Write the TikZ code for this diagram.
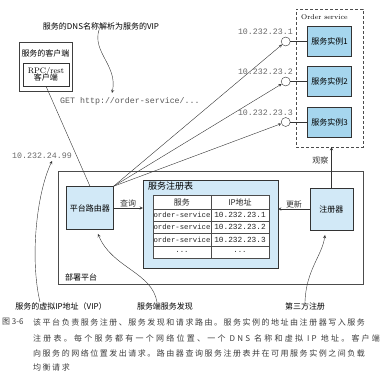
\documentclass[tikz,border=0pt]{standalone}
\usepackage{fontspec}
\setmonofont{Liberation Mono}
\newfontfamily\cjk{Noto Sans CJK SC}
\newfontfamily\capfont[LetterSpace=19]{Noto Sans CJK SC}
\newfontfamily\capfontwide[LetterSpace=28]{Noto Sans CJK SC}
\definecolor{instblue}{RGB}{166,214,238}
\definecolor{paleblue}{RGB}{210,233,247}
\definecolor{txtgray}{RGB}{105,105,105}
\definecolor{capgray}{RGB}{60,60,60}
\tikzset{
  box/.style={draw,black!80,text=black,font=\cjk\fontsize{8}{9.5}\selectfont},
  inst/.style={box,fill=instblue,minimum width=44,minimum height=30},
  cell/.style={draw,black!70,fill=white,minimum width=58,minimum height=12.25,inner sep=0pt,font=\ttfamily\fontsize{7.3}{8}\selectfont,text=black!85},
  ipnum/.style={font=\ttfamily\fontsize{8.3}{9}\selectfont,text=txtgray,inner sep=0pt},
  note/.style={font=\cjk\fontsize{8}{9.5}\selectfont,inner sep=0pt},
  capline/.style={anchor=west,inner sep=0pt,text=capgray,font=\capfont\fontsize{8}{9}\selectfont}
}
\begin{document}
\begin{tikzpicture}[x=1pt,y=-1pt,>=stealth,font=\cjk\fontsize{8}{9.5}\selectfont]
  \useasboundingbox (0,0) rectangle (384,374);
  % client
  \draw[black!75] (19,42) rectangle (72,91);
  \node[note] (clientlbl) at (45.5,53) {服务的客户端};
  \node[box,align=center,minimum width=46,minimum height=23,inner sep=1pt] (rpc) at (46,74.5) {{\rmfamily RPC/rest}\\[-2pt]客户端};
  \node[note] (dnsnote) at (101,26) {服务的DNS名称解析为服务的VIP};
  \coordinate (dnstip) at (112,93);
  \draw[->,black!80] ([xshift=-2]dnsnote.south) .. controls (92,52) and (118,66) .. (dnstip);
  \node[ipnum,anchor=west,text=black!65] (get) at (60,101) {GET http://order-service/...};
  % platform
  \draw[black!70] (58,171) rectangle (363,284);
  \node[note,anchor=west] (platlbl) at (65,277) {部署平台};
  \node[box,fill=paleblue,minimum width=44,minimum height=43] (router) at (90,208) {平台路由器};
  \node[box,fill=paleblue,minimum width=135,minimum height=88] (registry) at (210.5,224) {};
  \node[note,anchor=west,font=\cjk\fontsize{9}{10}\selectfont] (regtitle) at (148,186) {服务注册表};
  \node[cell,minimum height=14,font=\cjk\fontsize{8}{9}\selectfont] (hsvc) at (182,202) {服务};
  \node[cell,minimum height=14,font=\cjk\fontsize{8}{9}\selectfont] (hip) at (240,202) {IP地址};
  \foreach \i/\y in {1/215.1,2/227.4,3/239.6}{
    \node[cell] (svc\i) at (182,\y) {order-service};
    \node[cell,font=\ttfamily\fontsize{7.8}{8}\selectfont] (ip\i) at (240,\y) {10.232.23.\i};
  }
  \node[cell] (svc4) at (182,251.9) {...};
  \node[cell] (ip4) at (240,251.9) {...};
  \node[box,fill=paleblue,minimum width=43,minimum height=42] (registrar) at (331.5,209) {注册器};
  \draw[->,black!80] (router.east) -- (router.east -| registry.west) node[midway,above=1pt,note] (querylbl) {查询};
  \draw[->,black!80] (registrar.west) -- (registrar.west -| registry.east) node[midway,above=1pt,note] (updlbl) {更新};
  % order service
  \node[draw,black!70,dash pattern=on 3pt off 2pt,minimum width=67,minimum height=138] (ordersvc) at (329.5,78) {};
  \node[anchor=west,inner sep=0pt,font=\rmfamily\fontsize{7}{8}\selectfont] (oslbl) at (301,17) {Order service};
  \foreach \i/\y in {1/41.5,2/81.5,3/122}{
    \node[inst] (inst\i) at (329.5,\y) {服务实例\i};
    \node[circle,draw,black!80,fill=white,minimum size=9,inner sep=0pt] (vip\i) at (285.7,\y) {};
    \draw[black!80] (vip\i) -- (inst\i);
    \node[ipnum,anchor=east] (iplbl\i) at (293,\y-9.5) {10.232.23.\i};
    \draw[->,black!80] (router.north east) -- (vip\i);
  }
  \draw[black!80] (rpc.south) -- (router.north);
  \draw[->,black!80] (registrar.north) -- (registrar.north |- ordersvc.south) node[pos=0.68,left=3pt,note] (watchlbl) {观察};
  % notes below
  \node[ipnum] (vipaddr) at (42,156) {10.232.24.99};
  \node[note] (vipnote) at (61,306) {服务的虚拟IP地址（VIP）};
  \node[note] (discnote) at (165,306) {服务端服务发现};
  \node[note] (thirdnote) at (305,306) {第三方注册};
  \coordinate (disctip) at (98,234);
  \coordinate (thirdtip) at (325,235);
  \draw[<-,black!80] ([xshift=10,yshift=-2]vipaddr.south) .. controls (36,195) and (30,260) .. ([xshift=-21]vipnote.north);
  \draw[->,black!80] ([xshift=-8]discnote.north) .. controls (152,272) and (112,268) .. (disctip);
  \draw[->,black!80] (thirdnote.north) .. controls (306,270) and (322,256) .. (thirdtip);
  % caption
  \node[anchor=west,inner sep=0pt,text=capgray,font=\cjk\fontsize{8}{9}\selectfont] (capno) at (2,322) {图 3-6};
  \node[capline] (cap1) at (33,322) {该平台负责服务注册、服务发现和请求路由。服务实例的地址由注册器写入服务};
  \node[capline,font=\capfontwide\fontsize{8}{9}\selectfont] (cap2) at (33,338) {注册表。每个服务都有一个网络位置、一个 DNS 名称和虚拟 IP 地址。客户端};
  \node[capline] (cap3) at (33,353) {向服务的网络位置发出请求。路由器查询服务注册表并在可用服务实例之间负载};
  \node[capline] (cap4) at (33,367) {均衡请求};
\end{tikzpicture}
\end{document}
